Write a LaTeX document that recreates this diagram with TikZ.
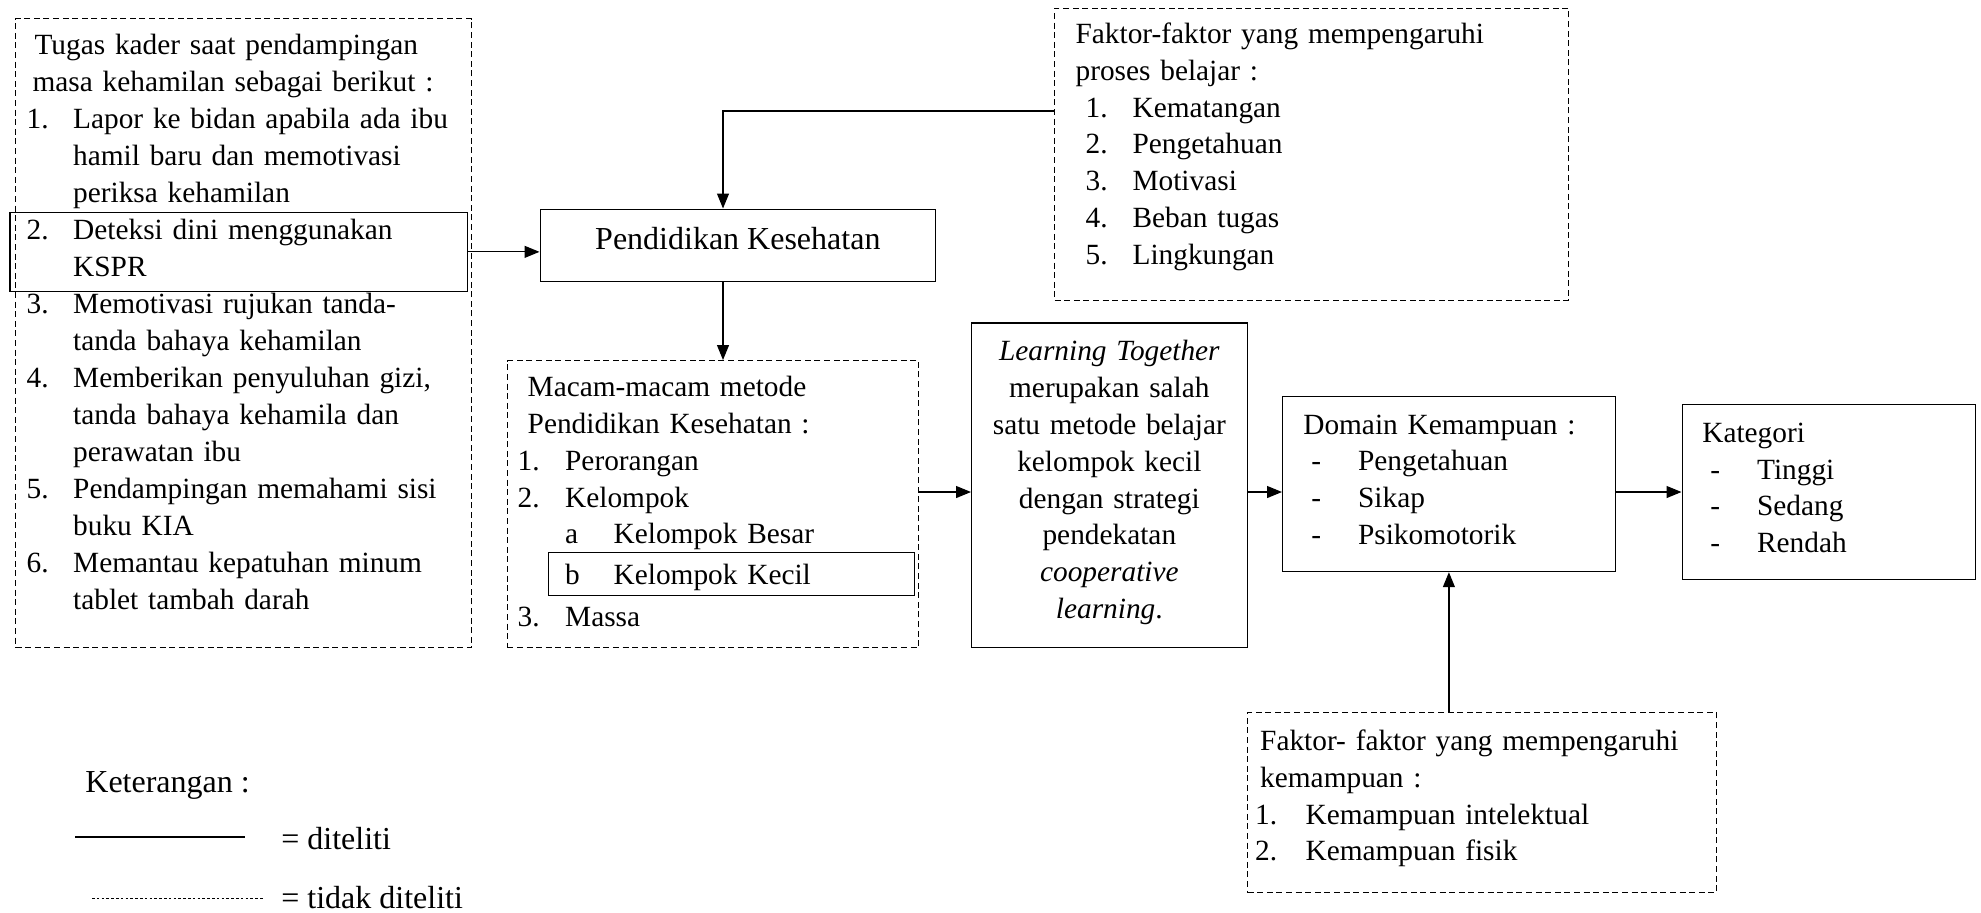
\documentclass[tikz,border=0pt]{standalone}
\usepackage{fontspec}
\setmainfont{Liberation Serif}
\usetikzlibrary{positioning,arrows.meta}
\newcommand{\numbox}[2]{\makebox[#1][l]{#2}}

\begin{document}
\begin{tikzpicture}[
x=0.5pt, y=-0.5pt,
font=\fontsize{14.67}{18.4}\selectfont,
solidbox/.style={draw, line width=0.6pt, align=left, inner ysep=0pt, anchor=north west},
dashbox/.style={solidbox, dash pattern=on 3pt off 1.8pt},
markbox/.style={draw, line width=0.6pt, inner sep=0pt, anchor=north west},
plain/.style={inner sep=0pt, anchor=west, font=\fontsize{16}{18.4}\selectfont},
arrow/.style={-{Triangle[length=7.5pt,width=6pt]}, line width=0.6pt}
]
\useasboundingbox (0,0) rectangle (1981,912);

% tugas kader
\node[dashbox, text width=217pt, inner xsep=5.5pt, text height=17.8pt, text depth=296.7pt, font=\fontsize{14.67}{18.5}\selectfont] (tugas) at (15,18) {%
\hspace*{4pt}Tugas kader saat pendampingan\\
\hspace*{3pt}masa kehamilan sebagai berikut :\\
\numbox{23.3pt}{1.}Lapor ke bidan apabila ada ibu\\
\hspace*{23.3pt}hamil baru dan memotivasi\\
\hspace*{23.3pt}periksa kehamilan\\
\numbox{23.3pt}{2.}Deteksi dini menggunakan\\
\hspace*{23.3pt}KSPR\\
\numbox{23.3pt}{3.}Memotivasi rujukan tanda-\\
\hspace*{23.3pt}tanda bahaya kehamilan\\
\numbox{23.3pt}{4.}Memberikan penyuluhan gizi,\\
\hspace*{23.3pt}tanda bahaya kehamila dan\\
\hspace*{23.3pt}perawatan ibu\\
\numbox{23.3pt}{5.}Pendampingan memahami sisi\\
\hspace*{23.3pt}buku KIA\\
\numbox{23.3pt}{6.}Memantau kepatuhan minum\\
\hspace*{23.3pt}tablet tambah darah};
\node[markbox, minimum width=228.7pt, minimum height=39.75pt] (kspr) at (9.3,211.5) {};

% pendidikan kesehatan
\node[solidbox, align=center, inner sep=0pt, minimum width=197.75pt, minimum height=36pt, text height=11pt, text depth=7pt, font=\fontsize{16}{18.4}\selectfont] (pk) at (539.5,208.5) {Pendidikan Kesehatan};

% faktor belajar
\node[dashbox, text width=236pt, inner xsep=10.5pt, text height=17.6pt, text depth=128.4pt] (fk) at (1054,7.6) {%
Faktor-faktor yang mempengaruhi\\
proses belajar :\\
\hspace*{5pt}\numbox{23.5pt}{1.}Kematangan\\
\hspace*{5pt}\numbox{23.5pt}{2.}Pengetahuan\\
\hspace*{5pt}\numbox{23.5pt}{3.}Motivasi\\
\hspace*{5pt}\numbox{23.5pt}{4.}Beban tugas\\
\hspace*{5pt}\numbox{23.5pt}{5.}Lingkungan};

% metode
\node[dashbox, text width=195.3pt, inner xsep=5.2pt, text height=18pt, text depth=125.5pt] (mc) at (506.7,360) {%
\hspace*{5pt}Macam-macam metode\\
\hspace*{5pt}Pendidikan Kesehatan :\\
\numbox{23.75pt}{1.}Perorangan\\
\numbox{23.75pt}{2.}Kelompok\\
\hspace*{23.75pt}\numbox{24.25pt}{a}Kelompok Besar\\[1.8pt]
\hspace*{23.75pt}\numbox{24.25pt}{b}Kelompok Kecil\\[2.6pt]
\numbox{23.75pt}{3.}Massa};
\node[markbox, minimum width=183.25pt, minimum height=21.65pt] (kecil) at (547.5,551.7) {};

% learning together
\node[solidbox, align=center, text width=137.75pt, inner xsep=0pt, text height=19pt, text depth=143.2pt] (lt) at (971,322.3) {%
\textit{Learning Together}\\
merupakan salah\\
satu metode belajar\\
kelompok kecil\\
dengan strategi\\
pendekatan\\
\textit{cooperative}\\
\textit{learning}.};

% domain
\node[solidbox, text width=145.6pt, inner xsep=10.35pt, text height=19pt, text depth=68.75pt] (dom) at (1282,395.5) {%
Domain Kemampuan :\\
\hspace*{4pt}\numbox{23.4pt}{-}Pengetahuan\\
\hspace*{4pt}\numbox{23.4pt}{-}Sikap\\
\hspace*{4pt}\numbox{23.4pt}{-}Psikomotorik};

% kategori
\node[solidbox, text width=126.55pt, inner xsep=10.1pt, text height=18.8pt, text depth=68.7pt] (kat) at (1681.5,404) {%
Kategori\\
\hspace*{4pt}\numbox{23.4pt}{-}Tinggi\\
\hspace*{4pt}\numbox{23.4pt}{-}Sedang\\
\hspace*{4pt}\numbox{23.4pt}{-}Rendah};

% faktor kemampuan
\node[dashbox, text width=226.9pt, inner xsep=3.8pt, text height=18.9pt, text depth=71.1pt] (fk2) at (1247,712) {%
\hspace*{2.5pt}Faktor- faktor yang mempengaruhi\\
\hspace*{2.5pt}kemampuan :\\
\numbox{25.2pt}{1.}Kemampuan intelektual\\
\numbox{25.2pt}{2.}Kemampuan fisik};

% connectors
\coordinate (fkin) at ([yshift=-51.7pt]fk.north west);
\coordinate (pkin) at ([xshift=91.75pt]pk.north west);
\coordinate (row) at (0,492);
\draw[arrow] (kspr.east) -- (kspr.east -| pk.west);
\draw[arrow] (fkin) -| (pkin);
\draw[arrow] (pkin |- pk.south) -- (pkin |- mc.north);
\draw[arrow] (row -| mc.east) -- (row -| lt.west);
\draw[arrow] (row -| lt.east) -- (row -| dom.west);
\draw[arrow] (row -| dom.east) -- (row -| kat.west);
\draw[arrow] (dom.south |- fk2.north) -- (dom.south);

% keterangan
\node[plain] (ket) at (85,785) {Keterangan :};
\coordinate (sola) at (75,837);
\coordinate (solb) at (245,837);
\draw[line width=0.6pt] (sola) -- (solb);
\node[plain] (dit) at (281,839) {= diteliti};
\coordinate (dasha) at (92,898);
\coordinate (dashb) at (263,898);
\draw[line width=0.5pt, dash pattern=on 1.3pt off 1.1pt] (dasha) -- (dashb);
\node[plain] (tdit) at (281,898) {= tidak diteliti};
\end{tikzpicture}
\end{document}
